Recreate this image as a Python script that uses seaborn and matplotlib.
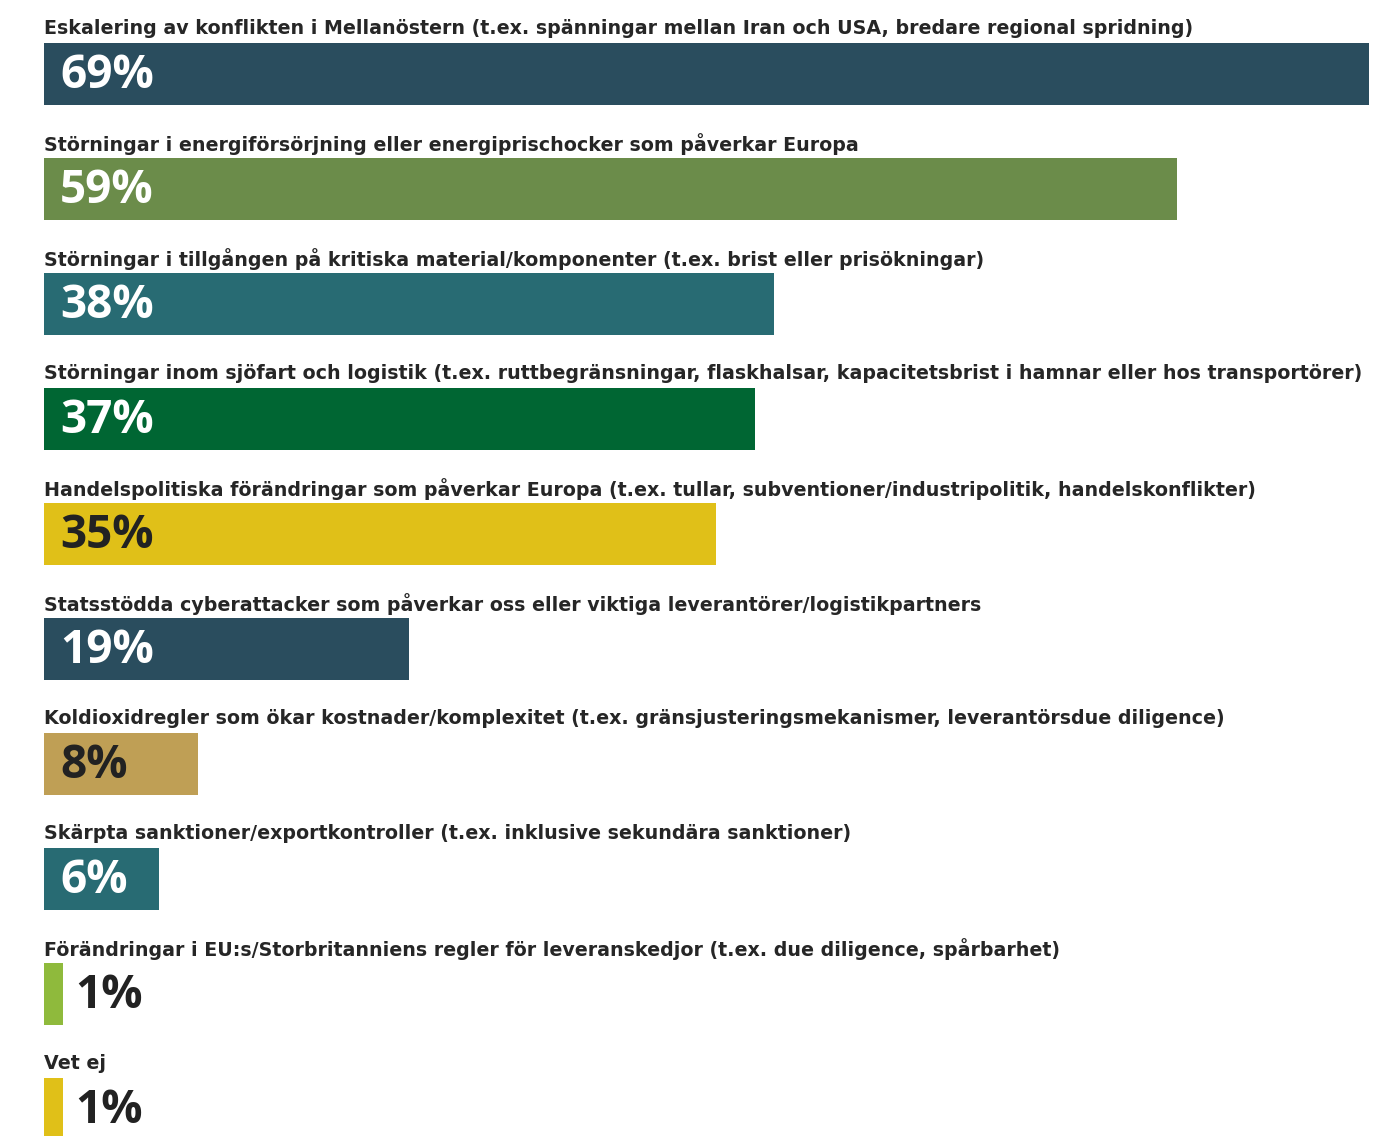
import matplotlib
matplotlib.use("Agg")
import matplotlib.pyplot as plt
import pandas as pd
import seaborn as sns

# Data
labels = [
    "Eskalering av konflikten i Mellanöstern (t.ex. spänningar mellan Iran och USA, bredare regional spridning)",
    "Störningar i energiförsörjning eller energiprischocker som påverkar Europa",
    "Störningar i tillgången på kritiska material/komponenter (t.ex. brist eller prisökningar)",
    "Störningar inom sjöfart och logistik (t.ex. ruttbegränsningar, flaskhalsar, kapacitetsbrist i hamnar eller hos transportörer)",
    "Handelspolitiska förändringar som påverkar Europa (t.ex. tullar, subventioner/industripolitik, handelskonflikter)",
    "Statsstödda cyberattacker som påverkar oss eller viktiga leverantörer/logistikpartners",
    "Koldioxidregler som ökar kostnader/komplexitet (t.ex. gränsjusteringsmekanismer, leverantörsdue diligence)",
    "Skärpta sanktioner/exportkontroller (t.ex. inklusive sekundära sanktioner)",
    "Förändringar i EU:s/Storbritanniens regler för leveranskedjor (t.ex. due diligence, spårbarhet)",
    "Vet ej",
]
values = [69, 59, 38, 37, 35, 19, 8, 6, 1, 1]
colors = ["#2a4d5e", "#6b8c4a", "#286b73", "#006633", "#e0c018",
          "#2a4d5e", "#bf9f55", "#286b73", "#8fba3c", "#e0c018"]
text_colors = ["white", "white", "white", "white", "#222222",
               "white", "#222222", "white", "#222222", "#222222"]

df = pd.DataFrame({"label": labels, "value": values})

W, H = 1384, 1136
fig = plt.figure(figsize=(W / 100, H / 100), dpi=100)
ax = fig.add_axes([0, 0, 1, 1])

sns.barplot(data=df, x="value", y="label", hue="label", palette=colors,
            orient="h", width=62 / 115, legend=False, saturation=1, ax=ax)

# map pixels: bar start at x=44, 69% ends at 1369; rows every 115 px
ppu = (1369 - 44) / 69
ax.set_xlim(-44 / ppu, (W - 44) / ppu)
ax.set_ylim((H - 74) / 115, -74 / 115)
ax.axis("off")

for i, (lab, v) in enumerate(zip(labels, values)):
    ax.text(0, i - 0.395, lab, fontsize=13.65, fontweight="bold",
            family="DejaVu Sans", color="#262626", va="center", ha="left")
    if v >= 5:
        x = 16 / ppu
    else:
        x = v + 12 / ppu
    ax.text(x, i + 0.01, f"{v}%", fontsize=33, fontweight="bold",
            family="Open Sans", color=text_colors[i], va="center", ha="left")

fig.savefig("out.png", dpi=100)
